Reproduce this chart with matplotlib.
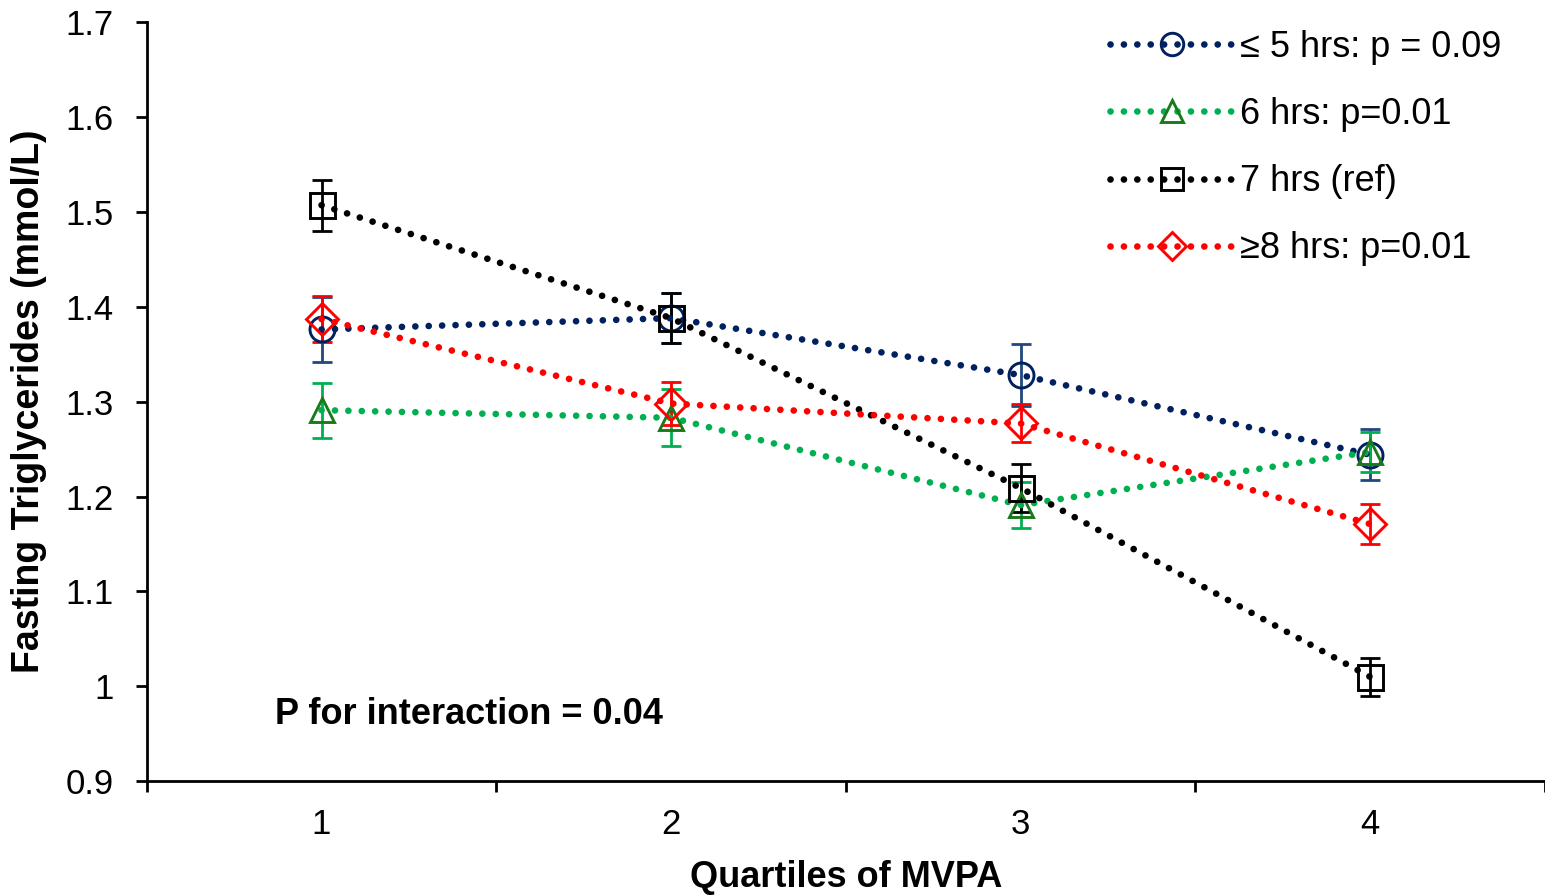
import matplotlib.pyplot as plt
from matplotlib.ticker import FuncFormatter

plt.rcParams['font.family'] = ['Liberation Sans', 'DejaVu Sans']

quartiles = [1, 2, 3, 4]

le5_mean = [1.376, 1.388, 1.328, 1.244]
le5_err = [0.034, 0.026, 0.033, 0.027]
h6_mean = [1.291, 1.283, 1.191, 1.247]
h6_err = [0.029, 0.030, 0.024, 0.021]
h7_mean = [1.507, 1.388, 1.209, 1.010]
h7_err = [0.027, 0.026, 0.025, 0.020]
ge8_mean = [1.387, 1.298, 1.277, 1.171]
ge8_err = [0.024, 0.023, 0.020, 0.021]

labels = ["\u2264 5 hrs: p = 0.09", "6 hrs: p=0.01", "7 hrs (ref)", "\u22658 hrs: p=0.01"]

series = [
    # mean, err, line colour, marker colour, error colour, marker
    (le5_mean, le5_err, "#002060", "#002060", "#1F497D", "o"),
    (h6_mean, h6_err, "#00B050", "#1A7A1A", "#00B050", "^"),
    (h7_mean, h7_err, "black", "black", "black", "s"),
    (ge8_mean, ge8_err, "#FF0000", "#FF0000", "#FF0000", "D"),
]

fig = plt.figure(figsize=(15.45, 8.96), dpi=100)
ax = fig.add_axes([0.095, 0.128, 0.905, 0.8475])

handles = []
for (m, e, lc, mc, ec, mk), lab in zip(series, labels):
    ax.errorbar(quartiles, m, yerr=e, fmt="none", ecolor=ec,
                elinewidth=2.0, capsize=7.5, capthick=2.0, zorder=2)
    ms = {"o": 18, "^": 17, "s": 18, "D": 16}[mk]
    ln, = ax.plot(quartiles, m, color=lc, linestyle=(0, (0.01, 2.0)),
                  linewidth=4.8, dash_capstyle="round",
                  marker=mk, markersize=ms, markerfacecolor="none",
                  markeredgecolor=mc, markeredgewidth=2.1, label=lab, zorder=3)
    handles.append(ln)

ax.set_xlim(0.5, 4.5)
ax.set_ylim(0.9, 1.7)
ax.set_yticks([0.9, 1.0, 1.1, 1.2, 1.3, 1.4, 1.5, 1.6, 1.7])
ax.yaxis.set_major_formatter(FuncFormatter(lambda v, p: "%g" % round(v, 1)))

ax.set_xticks([0.5, 1.5, 2.5, 3.5, 4.5])
ax.set_xticklabels([])
ax.set_xticks(quartiles, minor=True)
ax.set_xticklabels(["1", "2", "3", "4"], minor=True)

ax.tick_params(axis="y", which="major", direction="out", length=8, width=2.0,
               labelsize=25, pad=16)
ax.tick_params(axis="x", which="major", direction="out", length=8, width=2.0)
ax.tick_params(axis="x", which="minor", length=0, labelsize=25, pad=19)

for s in ["top", "right"]:
    ax.spines[s].set_visible(False)
for s in ["left", "bottom"]:
    ax.spines[s].set_linewidth(2.0)

ax.set_ylabel("Fasting Triglycerides (mmol/L)", fontsize=27, fontweight="bold")
ax.yaxis.set_label_coords(-0.0715, 0.5)
ax.set_xlabel("Quartiles of MVPA", fontsize=26, fontweight="bold")
ax.xaxis.set_label_coords(0.5, -0.104)

ax.text(0.092, 0.088, "P for interaction = 0.04", transform=ax.transAxes,
        fontsize=26, fontweight="bold", va="center", ha="left")

ax.legend(handles=handles, loc="upper left", bbox_to_anchor=(0.689, 0.9895),
          frameon=False, fontsize=26, handlelength=3.4, handletextpad=0.2,
          labelspacing=0.89, borderpad=0, borderaxespad=0, markerscale=0.9)

fig.savefig("out.png", dpi=100)
